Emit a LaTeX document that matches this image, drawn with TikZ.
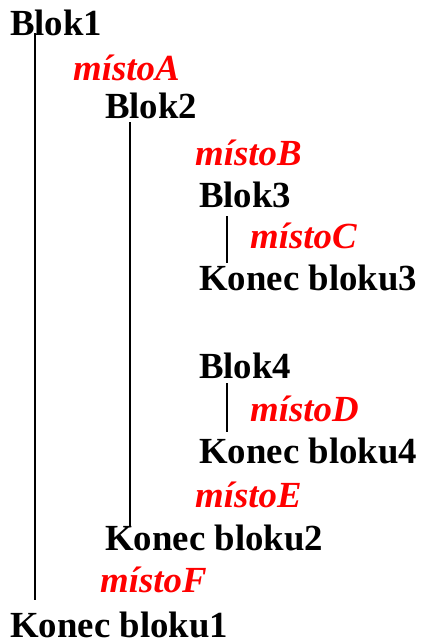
\documentclass[tikz,border=0pt]{standalone}
\usepackage{fontspec}
\setmainfont{Liberation Serif}
\usetikzlibrary{calc}
\definecolor{mred}{RGB}{255,0,0}
\tikzset{
  blk/.style={anchor=base west, inner sep=0pt, font=\fontsize{36.8}{44}\selectfont\bfseries, text=black},
  plc/.style={anchor=base west, inner sep=0pt, font=\fontsize{36.8}{44}\selectfont\bfseries\itshape, text=mred},
  bar/.style={line width=1.6pt, black}
}
\begin{document}
\begin{tikzpicture}[x=1pt,y=-1pt]
\useasboundingbox (0,0) rectangle (422,643);
\node[blk] (b1) at (10,35) {Blok1};
\node[plc] (pA) at (73,80) {místoA};
\node[blk] (b2) at (105,118) {Blok2};
\node[plc] (pB) at (195,165) {místoB};
\node[blk] (b3) at (199,207) {Blok3};
\node[plc] (pC) at (250,248) {místoC};
\node[blk] (k3) at (199,290) {Konec bloku3};
\node[blk] (b4) at (199,378) {Blok4};
\node[plc] (pD) at (250,421) {místoD};
\node[blk] (k4) at (199,463) {Konec bloku4};
\node[plc] (pE) at (195,507) {místoE};
\node[blk] (k2) at (105,550) {Konec bloku2};
\node[plc] (pF) at (100,592) {místoF};
\node[blk] (k1) at (10,637) {Konec bloku1};
\draw[bar] ($(b1.base west)+(25,-2)$) -- ($(k1.base west)+(25,-37)$);
\draw[bar] ($(b2.base west)+(25,4)$) -- ($(k2.base west)+(25,-23)$);
\draw[bar] ($(b3.base west)+(28,9)$) -- ($(k3.base west)+(28,-27)$);
\draw[bar] ($(b4.base west)+(28,5)$) -- ($(k4.base west)+(28,-31)$);
\end{tikzpicture}
\end{document}
